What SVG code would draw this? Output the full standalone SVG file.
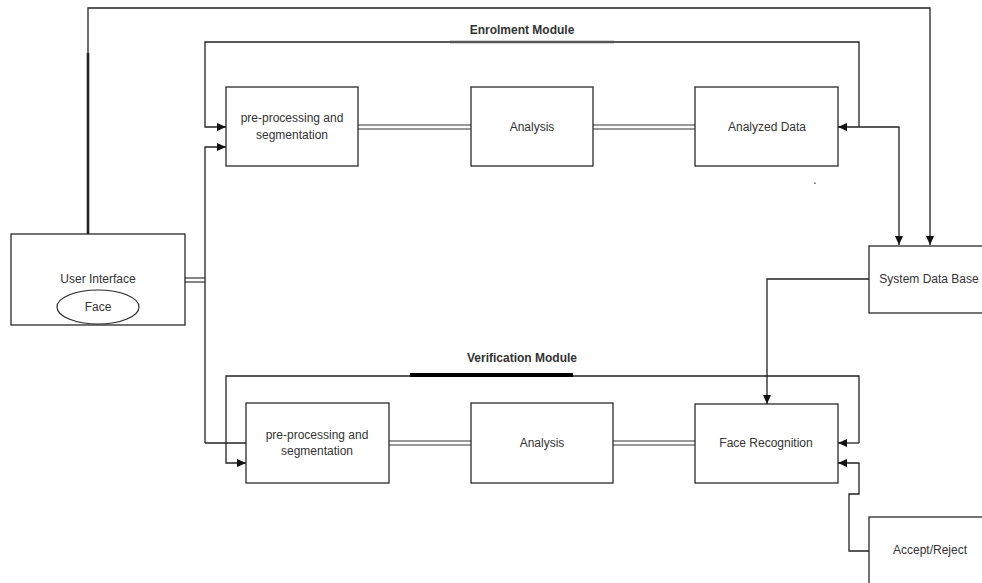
<svg xmlns="http://www.w3.org/2000/svg" width="982" height="583" viewBox="0 0 982 583">
<defs>
<style>
.box{fill:#fff;stroke:#2a2a2a;stroke-width:1.3}
.t{font-family:"Liberation Sans",Arial,sans-serif;font-size:12px;fill:#333;text-anchor:middle;dominant-baseline:central}
.tb{font-family:"Liberation Sans",Arial,sans-serif;font-size:12px;font-weight:bold;fill:#333;text-anchor:middle;dominant-baseline:central}
.ln{fill:none;stroke:#222;stroke-width:1.3}
.dbl{fill:none;stroke:#333;stroke-width:1.2}
</style>
<marker id="ah" markerWidth="9" markerHeight="8" refX="9" refY="4" orient="auto" markerUnits="userSpaceOnUse">
<path d="M0,0 L9,4 L0,8 Z" fill="#111"/>
</marker>
<marker id="ahs" markerWidth="9" markerHeight="8" refX="9" refY="4" orient="auto-start-reverse" markerUnits="userSpaceOnUse">
<path d="M0,0 L9,4 L0,8 Z" fill="#111"/>
</marker>
</defs>
<rect width="982" height="583" fill="#fff"/>

<g id="connectors">
<!-- outer loop: UI to System Data Base -->
<path class="ln" d="M88,234 V8 H930 V245" marker-end="url(#ah)"/>
<line x1="88" y1="53" x2="88" y2="234" stroke="#222" stroke-width="2.6"/>
<!-- enrolment loop -->
<path class="ln" d="M859,127 V42 H205 V127 H226" marker-end="url(#ah)"/>
<line x1="450" y1="42" x2="614" y2="42" stroke="#555" stroke-width="2.6"/>
<!-- Analyzed Data <-> System Data Base -->
<path class="ln" d="M838,127 H899 V245" marker-start="url(#ahs)" marker-end="url(#ah)"/>
<!-- UI double line -->
<line class="dbl" x1="185" y1="278" x2="205" y2="278"/>
<line class="dbl" x1="185" y1="282" x2="205" y2="282"/>
<!-- UI to pre-processing (both modules) -->
<path class="ln" d="M205,443 H246"/>
<path class="ln" d="M205,443 V147 H226" marker-end="url(#ah)"/>
<!-- enrolment double lines -->
<line class="dbl" x1="358" y1="125" x2="471" y2="125"/>
<line class="dbl" x1="358" y1="129" x2="471" y2="129"/>
<line class="dbl" x1="593" y1="125" x2="695" y2="125"/>
<line class="dbl" x1="593" y1="129" x2="695" y2="129"/>
<!-- verification loop -->
<path class="ln" d="M859,443 V376 H226 V463 H246" marker-end="url(#ah)"/>
<path class="ln" d="M859,443 H838" marker-end="url(#ah)"/>
<line x1="410" y1="375" x2="573" y2="375" stroke="#000" stroke-width="4"/>
<!-- verification double lines -->
<line class="dbl" x1="389" y1="441" x2="471" y2="441"/>
<line class="dbl" x1="389" y1="445" x2="471" y2="445"/>
<line class="dbl" x1="613" y1="441" x2="695" y2="441"/>
<line class="dbl" x1="613" y1="445" x2="695" y2="445"/>
<!-- System Data Base to Face Recognition -->
<path class="ln" d="M869,279 H767 V404" marker-end="url(#ah)"/>
<!-- Accept/Reject to Face Recognition -->
<path class="ln" d="M869,551 H849 V494 H859 V463 H838" marker-end="url(#ah)"/>
</g>

<g id="user-interface">
<rect class="box" x="11" y="234" width="174" height="91"/>
<text class="t" x="98" y="279">User Interface</text>
<ellipse cx="98" cy="307" rx="41" ry="17" fill="#fff" stroke="#2a2a2a" stroke-width="1.2"/>
<text class="t" x="98" y="307">Face</text>
</g>

<g id="enrol-preprocessing">
<rect class="box" x="226" y="87" width="132" height="79"/>
<text class="t" x="292" y="118">pre-processing and</text>
<text class="t" x="292" y="135">segmentation</text>
</g>

<g id="enrol-analysis">
<rect class="box" x="471" y="87" width="122" height="79"/>
<text class="t" x="532" y="127">Analysis</text>
</g>

<g id="analyzed-data">
<rect class="box" x="695" y="87" width="143" height="79"/>
<text class="t" x="767" y="127">Analyzed Data</text>
</g>

<g id="enrolment-label">
<text class="tb" x="522" y="30">Enrolment Module</text>
</g>

<text class="t" x="815" y="180">.</text>

<g id="system-data-base">
<rect class="box" x="869" y="246" width="130" height="67"/>
<text class="t" x="929" y="279">System Data Base</text>
</g>

<g id="verification-label">
<text class="tb" x="522" y="358">Verification Module</text>
</g>

<g id="verif-preprocessing">
<rect class="box" x="246" y="403" width="143" height="80"/>
<text class="t" x="317" y="435">pre-processing and</text>
<text class="t" x="317" y="451">segmentation</text>
</g>

<g id="verif-analysis">
<rect class="box" x="471" y="403" width="142" height="80"/>
<text class="t" x="542" y="443">Analysis</text>
</g>

<g id="face-recognition">
<rect class="box" x="695" y="404" width="143" height="79"/>
<text class="t" x="766" y="443">Face Recognition</text>
</g>

<g id="accept-reject">
<rect class="box" x="869" y="517" width="130" height="80"/>
<text class="t" x="930" y="550">Accept/Reject</text>
</g>
</svg>
